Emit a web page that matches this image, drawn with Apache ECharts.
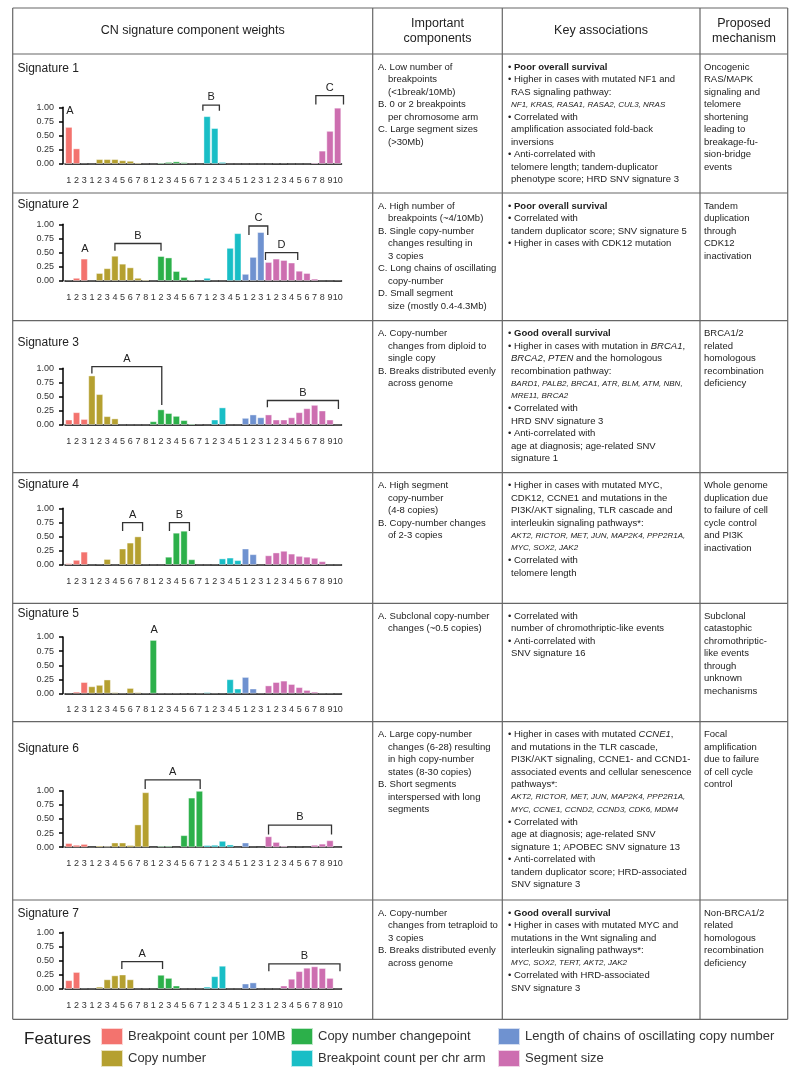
<!DOCTYPE html>
<html>
<head>
<meta charset="utf-8">
<script src="https://cdn.jsdelivr.net/npm/echarts@6/dist/echarts.min.js"></script>
<style>
  html, body { margin: 0; padding: 0; background: #fff; }
  #chart { width: 800px; height: 1078px; }
</style>
</head>
<body>
<div id="chart"></div>
<script>
// features, in the order they appear along the x axis
const featureNames = [
  "Breakpoint count per 10MB",
  "Copy number",
  "Copy number changepoint",
  "Breakpoint count per chr arm",
  "Length of chains of oscillating copy number",
  "Segment size",
];
const featureSizes = [3, 8, 7, 5, 3, 10];
const tickLabels = [
  "1", "2", "3",
  "1", "2", "3", "4", "5", "6", "7", "8",
  "1", "2", "3", "4", "5", "6", "7",
  "1", "2", "3", "4", "5",
  "1", "2", "3",
  "1", "2", "3", "4", "5", "6", "7", "8", "9", "10",
];

// component weights per signature (36 values each)
const sig1 = [0.65, 0.27, 0.01, 0, 0.08, 0.08, 0.08, 0.06, 0.05, 0.02, 0.005, 0, 0.02, 0.03, 0.04, 0.025, 0.005, 0, 0.84, 0.63, 0.03, 0, 0, 0, 0, 0, 0, 0.01, 0.01, 0, 0, 0, 0.02, 0.23, 0.58, 0.99];
const sig2 = [0.01, 0.05, 0.39, 0, 0.135, 0.22, 0.44, 0.30, 0.235, 0.05, 0.02, 0, 0.435, 0.41, 0.17, 0.065, 0.02, 0.005, 0.05, 0, 0, 0.58, 0.84, 0.12, 0.42, 0.86, 0.33, 0.39, 0.365, 0.32, 0.175, 0.135, 0.035, 0, 0, 0.01];
const sig3 = [0.09, 0.22, 0.10, 0.87, 0.54, 0.15, 0.11, 0, 0, 0, 0, 0.06, 0.27, 0.205, 0.155, 0.08, 0.02, 0.01, 0, 0.09, 0.305, 0, 0, 0.12, 0.18, 0.13, 0.18, 0.09, 0.09, 0.13, 0.22, 0.29, 0.35, 0.25, 0.09, 0];
const sig4 = [0.025, 0.085, 0.23, 0, 0.01, 0.10, 0, 0.285, 0.39, 0.50, 0.005, 0, 0, 0.14, 0.565, 0.60, 0.095, 0, 0, 0.005, 0.11, 0.125, 0.08, 0.285, 0.185, 0, 0.165, 0.215, 0.245, 0.195, 0.155, 0.14, 0.12, 0.06, 0, 0];
const sig5 = [0.01, 0.03, 0.20, 0.125, 0.15, 0.245, 0.02, 0, 0.095, 0.02, 0, 0.945, 0, 0, 0, 0.01, 0.01, 0, 0.02, 0, 0.01, 0.25, 0.085, 0.29, 0.085, 0, 0.14, 0.20, 0.225, 0.165, 0.11, 0.06, 0.03, 0, 0, 0.01];
const sig6 = [0.07, 0.04, 0.055, 0, 0.025, 0.015, 0.08, 0.08, 0.035, 0.40, 0.97, 0, 0.02, 0.02, 0, 0.21, 0.875, 0.995, 0.035, 0.04, 0.11, 0.045, 0, 0.08, 0.01, 0, 0.19, 0.09, 0.02, 0, 0.01, 0, 0.04, 0.06, 0.12, 0];
const sig7 = [0.15, 0.295, 0.005, 0, 0.035, 0.165, 0.235, 0.25, 0.165, 0, 0.005, 0, 0.245, 0.19, 0.055, 0, 0, 0.003, 0.035, 0.22, 0.405, 0, 0, 0.09, 0.11, 0, 0, 0, 0.055, 0.175, 0.31, 0.37, 0.395, 0.365, 0.19, 0];

// bracket annotations: [label, from (category), to (category), level, left end, right end]
const sig1Marks = [["A", 0.15, 0.15, 0.935], ["B", 17.45, 19.6, 1.04, 0.94, 0.94], ["C", 32.16, 35.76, 1.207, 1.05, 1.05]];
const sig2Marks = [["A", 2.08, 2.08, 0.565], ["B", 6, 12, 0.66, 0.53, 0.53], ["C", 23.45, 25.9, 0.97, 0.81, 0.81], ["D", 25.6, 29.8, 0.5, 0.37, 0.37]];
const sig3Marks = [["A", 3, 12.1, 1.03, 0.91, 0.35], ["B", 25.85, 35.1, 0.43, 0.31, 0.28]];
const sig4Marks = [["A", 7, 9.6, 0.745, 0.6, 0.6], ["B", 13.1, 15.7, 0.745, 0.6, 0.6]];
const sig5Marks = [["A", 11.1, 11.1, 1.125]];
const sig6Marks = [["A", 9.94, 17.1, 1.19, 1.03, 1.03], ["B", 26, 34.2, 0.39, 0.226, 0.226]];
const sig7Marks = [["A", 6.9, 12.2, 0.48, 0.35, 0.35], ["B", 26.04, 35.3, 0.44, 0.31, 0.31]];

const sigs = [sig1, sig2, sig3, sig4, sig5, sig6, sig7];
const marks = [sig1Marks, sig2Marks, sig3Marks, sig4Marks, sig5Marks, sig6Marks, sig7Marks];

// table text
const col2Text = [
  ["A. Low number of", "  breakpoints", "  (<1break/10Mb)", "B. 0 or 2 breakpoints", "  per chromosome arm", "C. Large segment sizes", "  (>30Mb)"],
  ["A. High number of", "  breakpoints (~4/10Mb)", "B. Single copy-number", "  changes resulting in", "  3 copies", "C. Long chains of oscillating", "  copy-number", "D. Small segment", "  size (mostly 0.4-4.3Mb)"],
  ["A. Copy-number", "  changes from diploid to", "  single copy", "B. Breaks distributed evenly", "  across genome"],
  ["A. High segment", "  copy-number", "  (4-8 copies)", "B. Copy-number changes", "  of 2-3 copies"],
  ["A. Subclonal copy-number", "  changes (~0.5 copies)"],
  ["A. Large copy-number", "  changes (6-28) resulting", "  in high copy-number", "  states (8-30 copies)", "B. Short segments", "  interspersed with long", "  segments"],
  ["A. Copy-number", "  changes from tetraploid to", "  3 copies", "B. Breaks distributed evenly", "  across genome"],
];
const col3Text = [
  ["• {b|Poor overall survival}", "• Higher in cases with mutated NF1 and", "  RAS signaling pathway:", "~NF1, KRAS, RASA1, RASA2, CUL3, NRAS", "• Correlated with", "  amplification associated fold-back", "  inversions", "• Anti-correlated with", "  telomere length; tandem-duplicator", "  phenotype score; HRD SNV signature 3"],
  ["• {b|Poor overall survival}", "• Correlated with", "  tandem duplicator score; SNV signature 5", "• Higher in cases with CDK12 mutation"],
  ["• {b|Good overall survival}", "• Higher in cases with mutation in {i|BRCA1},", "  {i|BRCA2}, {i|PTEN} and the homologous", "  recombination pathway:", "~BARD1, PALB2, BRCA1, ATR, BLM, ATM, NBN,", "~MRE11, BRCA2", "• Correlated with", "  HRD SNV signature 3", "• Anti-correlated with", "  age at diagnosis; age-related SNV", "  signature 1"],
  ["• Higher in cases with mutated MYC,", "  CDK12, CCNE1 and mutations in the", "  PI3K/AKT signaling, TLR cascade and", "  interleukin signaling pathways*:", "~AKT2, RICTOR, MET, JUN, MAP2K4, PPP2R1A,", "~MYC, SOX2, JAK2", "• Correlated with", "  telomere length"],
  ["• Correlated with", "  number of chromothriptic-like events", "• Anti-correlated with", "  SNV signature 16"],
  ["• Higher in cases with mutated {i|CCNE1},", "  and mutations in the TLR cascade,", "  PI3K/AKT signaling, CCNE1- and CCND1-", "  associated events and cellular senescence", "  pathways*:", "~AKT2, RICTOR, MET, JUN, MAP2K4, PPP2R1A,", "~MYC, CCNE1, CCND2, CCND3, CDK6, MDM4", "• Correlated with", "  age at diagnosis; age-related SNV", "  signature 1; APOBEC SNV signature 13", "• Anti-correlated with", "  tandem duplicator score; HRD-associated", "  SNV signature 3"],
  ["• {b|Good overall survival}", "• Higher in cases with mutated MYC and", "  mutations in the Wnt signaling and", "  interleukin signaling pathways*:", "~MYC, SOX2, TERT, AKT2, JAK2", "• Correlated with HRD-associated", "  SNV signature 3"],
];
const col4Text = [
  ["Oncogenic", "RAS/MAPK", "signaling and", "telomere", "shortening", "leading to", "breakage-fu-", "sion-bridge", "events"],
  ["Tandem", "duplication", "through", "CDK12", "inactivation"],
  ["BRCA1/2", "related", "homologous", "recombination", "deficiency"],
  ["Whole genome", "duplication due", "to failure of cell", "cycle control", "and PI3K", "inactivation"],
  ["Subclonal", "catastophic", "chromothriptic-", "like events", "through", "unknown", "mechanisms"],
  ["Focal", "amplification", "due to failure", "of cell cycle", "control"],
  ["Non-BRCA1/2", "related", "homologous", "recombination", "deficiency"],
];

// ---- layout ----
const FONT = "Liberation Sans, Arial, sans-serif";
const featureColors = ["#F3736E", "#B5A030", "#2CB04A", "#19BEC6", "#6F92D0", "#CD6EB0"];
const tableL = 12.7, tableR = 787.7, tableT = 8, tableB = 1019.3;
const colX = [372.7, 502.3, 700];
const rowY = [54, 193, 320.7, 472.7, 603.3, 721.7, 900];
const gridTops = [107.3, 224.3, 368.3, 508.3, 637, 790.7, 932.3];
const titleY = [69, 205, 342.3, 485, 614, 749, 913.3];
const LH = 12.5;

const featureOf = [];
featureSizes.forEach((n, f) => { for (let k = 0; k < n; k++) featureOf.push(f); });

const rich = {
  b: { fontWeight: "bold", fontSize: 9.5, fontFamily: FONT, fill: "#222" },
  i: { fontStyle: "italic", fontSize: 9.5, fontFamily: FONT, fill: "#222" },
};
function txt(x, y, s, opts) {
  opts = opts || {};
  return {
    type: "text", x, y, silent: true,
    style: {
      text: s, fontFamily: FONT, fontSize: opts.size || 9.5,
      fontStyle: opts.italic ? "italic" : "normal",
      fontWeight: opts.bold ? "bold" : "normal",
      fill: opts.fill || "#222", align: opts.align || "left", verticalAlign: "middle", rich,
    },
  };
}
function cell(x, top, rows, indent) {
  const out = [];
  rows.forEach((r, k) => {
    const y = top + 13 + k * LH;
    let s = r, dx = 0, o = {};
    if (s.startsWith("• ")) { out.push(txt(x, y, "•")); s = s.slice(2); dx = 6; }
    else if (s.startsWith("  ")) { s = s.slice(2); dx = indent; }
    else if (s.startsWith("~")) { s = s.slice(1); dx = indent; o = { size: 8, italic: true }; }
    out.push(txt(x + dx, y, s, o));
  });
  return out;
}
function line(x1, y1, x2, y2) {
  return { type: "line", silent: true, shape: { x1, y1, x2, y2 }, style: { stroke: "#666", lineWidth: 1.2 } };
}

const graphics = [];
graphics.push(line(tableL, tableT, tableR, tableT), line(tableL, tableB, tableR, tableB));
graphics.push(line(tableL, tableT, tableL, tableB), line(tableR, tableT, tableR, tableB));
colX.forEach(x => graphics.push(line(x, tableT, x, tableB)));
rowY.forEach(y => graphics.push(line(tableL, y, tableR, y)));

const hs = { size: 12.5, align: "center" };
graphics.push(txt(192.7, 31, "CN signature component weights", hs));
graphics.push(txt(437.5, 24, "Important", hs), txt(437.5, 38.5, "components", hs));
graphics.push(txt(601, 31, "Key associations", hs));
graphics.push(txt(744, 24, "Proposed", hs), txt(744, 38.5, "mechanism", hs));

sigs.forEach((_, i) => {
  graphics.push(txt(17.5, titleY[i], "Signature " + (i + 1), { size: 12 }));
  graphics.push(...cell(378, rowY[i], col2Text[i], 10));
  graphics.push(...cell(508, rowY[i], col3Text[i], 3));
  graphics.push(...cell(704, rowY[i], col4Text[i], 0));
});
graphics.push(txt(24, 1039, "Features", { size: 17 }));

// ---- charts ----
const grids = [], xAxes = [], yAxes = [], series = [];
sigs.forEach((vals, i) => {
  grids.push({ left: 65, width: 276.5, top: gridTops[i], height: 56.5 });
  xAxes.push({
    type: "category", gridIndex: i, data: tickLabels, offset: 1,
    axisLine: { lineStyle: { color: "#000", width: 1.5 } },
    axisTick: { alignWithLabel: true, interval: 0, length: 5, lineStyle: { color: "#000", width: 1.5 } },
    axisLabel: { interval: 0, fontSize: 9, color: "#333", margin: 11, fontFamily: FONT },
  });
  yAxes.push({
    type: "value", gridIndex: i, min: 0, max: 1, interval: 0.25, offset: 2,
    splitLine: { show: false },
    axisLine: { show: true, lineStyle: { color: "#000", width: 1.5 } },
    axisTick: { show: true, length: 4, lineStyle: { color: "#000", width: 1.5 } },
    axisLabel: { fontSize: 9, color: "#333", margin: 9, fontFamily: FONT, formatter: v => v.toFixed(2) },
  });
  featureNames.forEach((name, f) => {
    const data = vals.map((v, k) => {
      if (featureOf[k] !== f) return "-";
      return v < 0.015 ? { value: v, itemStyle: { opacity: 0.35 } } : v;
    });
    series.push({
      type: "bar", name, xAxisIndex: i, yAxisIndex: i, stack: "s" + i, data,
      barCategoryGap: "10%", silent: true,
      itemStyle: { color: featureColors[f], borderColor: "rgba(255,255,255,0.7)", borderWidth: 0.6 },
    });
  });
  const mk = marks[i];
  series.push({
    type: "custom", xAxisIndex: i, yAxisIndex: i, silent: true, clip: false,
    data: mk.map((m, k) => [k, 0]), encode: { x: 0, y: 1 },
    renderItem: (params, api) => {
      const m = mk[params.dataIndex];
      const bw = api.size([1, 0])[0];
      const x0 = api.coord([0, 0])[0];
      const X = c => x0 + c * bw;
      const Y = v => api.coord([0, v])[1];
      const lbl = { fontFamily: FONT, fontSize: 11, fill: "#222", align: "center", verticalAlign: "middle" };
      if (m[1] === m[2]) {
        return { type: "text", style: Object.assign({ text: m[0], x: X(m[1]), y: Y(m[3]) }, lbl) };
      }
      const xl = X(m[1]), xr = X(m[2]), yt = Y(m[3]);
      return {
        type: "group",
        children: [
          { type: "polyline", shape: { points: [[xl, Y(m[4])], [xl, yt], [xr, yt], [xr, Y(m[5])]] },
            style: { stroke: "#333", lineWidth: 1.3, fill: null } },
          { type: "text", style: Object.assign({ text: m[0], x: (xl + xr) / 2, y: yt - 8 }, lbl) },
        ],
      };
    },
  });
});

// one legend per entry so the 3x2 layout is exact
const legendLeft = [100, 100, 290, 290, 497, 497];
const legendTop = [1027, 1049, 1027, 1049, 1027, 1049];
const legends = featureNames.map((name, k) => ({
  left: legendLeft[k], top: legendTop[k], padding: 0,
  icon: "rect", itemWidth: 22, itemHeight: 17, selectedMode: false,
  data: [name],
  textStyle: { fontSize: 13, color: "#333", fontFamily: FONT },
}));

const chart = echarts.init(document.getElementById("chart"), null, { renderer: "canvas" });
chart.setOption({
  animation: false,
  textStyle: { fontFamily: FONT },
  grid: grids, xAxis: xAxes, yAxis: yAxes, series,
  legend: legends,
  graphic: graphics,
});
</script>
</body>
</html>
